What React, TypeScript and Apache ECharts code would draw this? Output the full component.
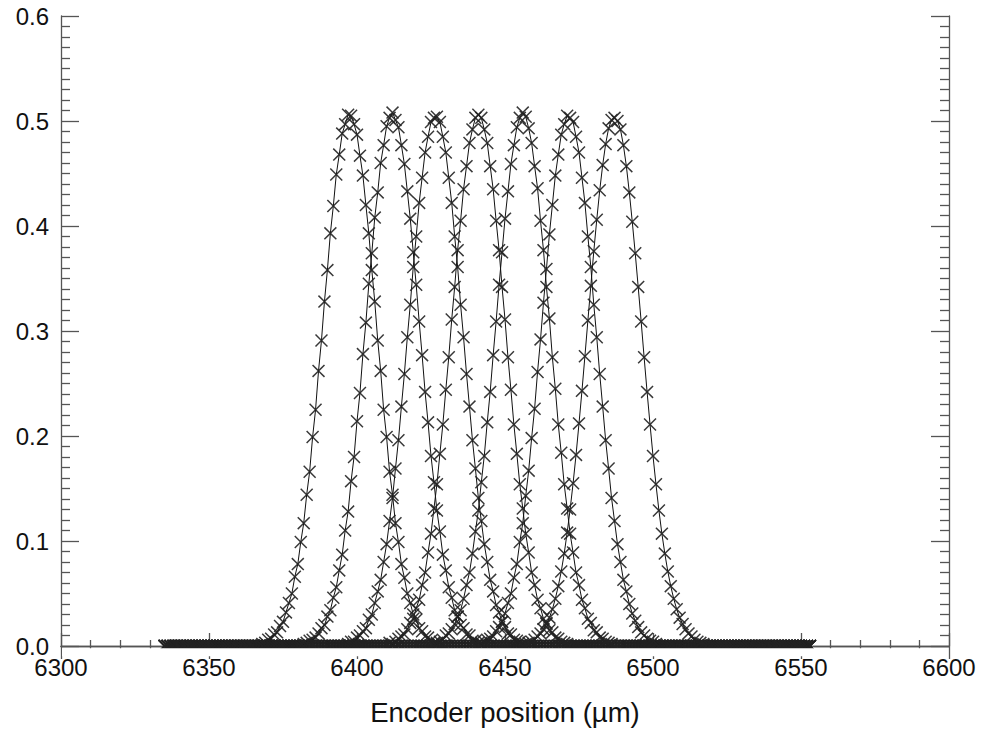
import React, { useEffect, useRef } from "react";
import * as echarts from "echarts";

// Axis ranges
const xMin = 6300;
const xMax = 6600;
const xStep = 50;
const yMin = 0;
const yMax = 0.6;
const yStep = 0.1;
const xTitle = "Encoder position (µm)";

// Every scan covers the same encoder range (1 µm sampling); outside the core of each peak it reads 0
const scanStart = 6335;
const scanEnd = 6553;

// first encoder position of each curve's non-zero core
const coreStarts = [6368, 6382, 6397, 6411, 6426, 6442, 6457];

const curve1 = [
  0.002, 0.003, 0.006, 0.007, 0.011, 0.013, 0.019, 0.023, 0.032, 0.041, 0.05, 0.066, 0.078, 0.099, 0.117,
  0.144, 0.166, 0.199, 0.225, 0.262, 0.291, 0.328, 0.358, 0.393, 0.419, 0.449, 0.468, 0.488, 0.497, 0.506,
  0.505, 0.497, 0.487, 0.467, 0.448, 0.42, 0.393, 0.358, 0.328, 0.291, 0.262, 0.225, 0.199, 0.166, 0.144,
  0.117, 0.099, 0.078, 0.065, 0.05, 0.041, 0.03, 0.025, 0.017, 0.014, 0.009, 0.008, 0.005, 0.003, 0.002,
];
const curve2 = [
  0.002, 0.003, 0.005, 0.006, 0.008, 0.012, 0.017, 0.02, 0.028, 0.034, 0.046, 0.056, 0.072, 0.087, 0.11,
  0.128, 0.157, 0.18, 0.214, 0.241, 0.278, 0.308, 0.345, 0.374, 0.408, 0.432, 0.46, 0.477, 0.495, 0.503,
  0.508,
  0.501, 0.494, 0.477, 0.459, 0.433, 0.407, 0.375, 0.344, 0.309, 0.277, 0.242, 0.213, 0.181, 0.156, 0.129,
  0.109, 0.087, 0.072, 0.056, 0.046, 0.034, 0.028, 0.02, 0.017, 0.011, 0.01, 0.005, 0.005, 0.003, 0.002,
];
const curve3 = [
  0.002, 0.004, 0.004, 0.008, 0.01, 0.014, 0.017, 0.025, 0.03, 0.041, 0.052, 0.063, 0.08, 0.097, 0.119,
  0.141, 0.169, 0.196, 0.228, 0.259, 0.294, 0.325, 0.361, 0.39, 0.422, 0.446, 0.47, 0.485, 0.499, 0.503,
  0.504, 0.499, 0.485, 0.47, 0.446, 0.422, 0.39, 0.361, 0.325, 0.294, 0.259, 0.228, 0.196, 0.169, 0.141,
  0.119, 0.097, 0.08, 0.063, 0.052, 0.039, 0.032, 0.023, 0.018, 0.012, 0.011, 0.006, 0.005, 0.004, 0.002,
];
const curve4 = [
  0.003, 0.002, 0.004, 0.007, 0.009, 0.011, 0.016, 0.022, 0.026, 0.036, 0.044, 0.058, 0.07, 0.089, 0.107,
  0.131, 0.154, 0.183, 0.211, 0.244, 0.275, 0.311, 0.342, 0.377, 0.405, 0.435, 0.457, 0.479, 0.492, 0.503,
  0.506,
  0.503, 0.492, 0.479, 0.457, 0.435, 0.405, 0.377, 0.342, 0.311, 0.275, 0.244, 0.211, 0.183, 0.154, 0.131,
  0.107, 0.089, 0.07, 0.058, 0.044, 0.036, 0.026, 0.022, 0.015, 0.013, 0.008, 0.007, 0.004, 0.003, 0.002,
];
const curve5 = [
  0.002, 0.003, 0.004, 0.006, 0.01, 0.012, 0.016, 0.021, 0.028, 0.034, 0.045, 0.058, 0.07, 0.088, 0.109,
  0.129, 0.156, 0.181, 0.213, 0.242, 0.277, 0.309, 0.344, 0.375, 0.407, 0.433, 0.459, 0.477, 0.494, 0.503,
  0.508,
  0.504, 0.493, 0.479, 0.457, 0.436, 0.405, 0.377, 0.342, 0.312, 0.275, 0.245, 0.211, 0.184, 0.154, 0.131,
  0.107, 0.089, 0.07, 0.058, 0.044, 0.036, 0.026, 0.022, 0.015, 0.013, 0.008, 0.007, 0.004, 0.003, 0.002,
];
const curve6 = [
  0.003, 0.004, 0.006, 0.007, 0.009, 0.014, 0.018, 0.023, 0.031, 0.041, 0.05, 0.065, 0.078, 0.099, 0.117,
  0.143, 0.167, 0.198, 0.226, 0.261, 0.292, 0.327, 0.359, 0.392, 0.42, 0.448, 0.468, 0.487, 0.497, 0.505,
  0.503, 0.499, 0.485, 0.47, 0.446, 0.422, 0.39, 0.361, 0.325, 0.294, 0.259, 0.228, 0.196, 0.169, 0.141,
  0.119, 0.097, 0.08, 0.063, 0.052, 0.04, 0.031, 0.024, 0.018, 0.013, 0.01, 0.007, 0.005, 0.004, 0.002,
];
const curve7 = [
  0.002, 0.003, 0.004, 0.006, 0.009, 0.012, 0.016, 0.021, 0.027, 0.035, 0.045, 0.057, 0.071, 0.088, 0.108,
  0.13, 0.155, 0.182, 0.212, 0.243, 0.276, 0.31, 0.343, 0.376, 0.406, 0.434, 0.458, 0.478, 0.493, 0.501,
  0.503,
  0.5, 0.492, 0.477, 0.457, 0.432, 0.404, 0.374, 0.342, 0.309, 0.275, 0.242, 0.211, 0.181, 0.154, 0.129,
  0.107, 0.088, 0.071, 0.057, 0.045, 0.035, 0.027, 0.021, 0.016, 0.012, 0.009, 0.006, 0.004, 0.003, 0.002,
];
const curves = [curve1, curve2, curve3, curve4, curve5, curve6, curve7];

const CROSS =
  "path://M0,8 L8,0 L50,42 L92,0 L100,8 L58,50 L100,92 L92,100 L50,58 L8,100 L0,92 L42,50 Z";

function buildScan(start: number, core: number[]) {
  const pts: [number, number][] = [];
  for (let x = scanStart; x <= scanEnd; x++) {
    const i = x - start;
    pts.push([x, i >= 0 && i < core.length ? core[i] : 0]);
  }
  return pts;
}

const AX = "#555";
const FONT = "'Liberation Sans', Arial, Helvetica, sans-serif";

export default function App() {
  const ref = useRef<HTMLDivElement>(null);
  useEffect(() => {
    document.body.style.margin = "0";
    if (!ref.current) return;
    const chart = echarts.init(ref.current, null, { renderer: "svg" });

    const axisCommon = {
      axisLine: { show: true, lineStyle: { color: AX, width: 1.3 } },
      splitLine: { show: false },
    };
    const xCommon = {
      type: "value" as const,
      min: xMin,
      max: xMax,
      interval: xStep,
      ...axisCommon,
      axisTick: { show: true, inside: true, length: 13, lineStyle: { color: AX, width: 1.3 } },
      minorTick: { show: true, splitNumber: 5, length: 6, lineStyle: { color: AX, width: 1.3 } },
    };
    const yCommon = {
      type: "value" as const,
      min: yMin,
      max: yMax,
      interval: yStep,
      ...axisCommon,
      axisTick: { show: true, inside: true, length: 18, lineStyle: { color: AX, width: 1.3 } },
      minorTick: { show: true, splitNumber: 10, length: 9, lineStyle: { color: AX, width: 1.3 } },
    };

    chart.setOption({
      animation: false,
      backgroundColor: "#fff",
      grid: { left: 61, right: 33, top: 16, bottom: 84, containLabel: false },
      xAxis: [
        {
          ...xCommon,
          position: "bottom",
          name: xTitle,
          nameLocation: "middle",
          nameGap: 52,
          nameTextStyle: { fontFamily: FONT, fontSize: 27.5, color: "#111" },
          axisLabel: {
            fontFamily: FONT,
            fontSize: 24,
            color: "#111",
            margin: 9,
            formatter: (v: number) => String(v),
          },
        },
        { ...xCommon, position: "top", axisLabel: { show: false } },
      ],
      yAxis: [
        {
          ...yCommon,
          position: "left",
          axisLabel: {
            fontFamily: FONT,
            fontSize: 24,
            color: "#111",
            margin: 12,
            formatter: (v: number) => v.toFixed(1),
          },
        },
        { ...yCommon, position: "right", axisLabel: { show: false } },
      ],
      graphic: [
        {
          type: "rect",
          z: 100,
          shape: { x: 62, y: 648.2, width: 886, height: 8 },
          style: { fill: "#fff" },
        },
      ],
      series: curves.map((c, k) => ({
        type: "line",
        name: "scan " + (k + 1),
        xAxisIndex: 0,
        yAxisIndex: 0,
        data: buildScan(coreStarts[k], c),
        showSymbol: true,
        showAllSymbol: true,
        symbol: CROSS,
        symbolSize: 13,
        clip: false,
        itemStyle: { color: "#222", opacity: 0.9 },
        lineStyle: { color: "#111", width: 1 },
      })),
    });
    return () => chart.dispose();
  }, []);
  return <div ref={ref} style={{ width: 982, height: 731 }} />;
}
